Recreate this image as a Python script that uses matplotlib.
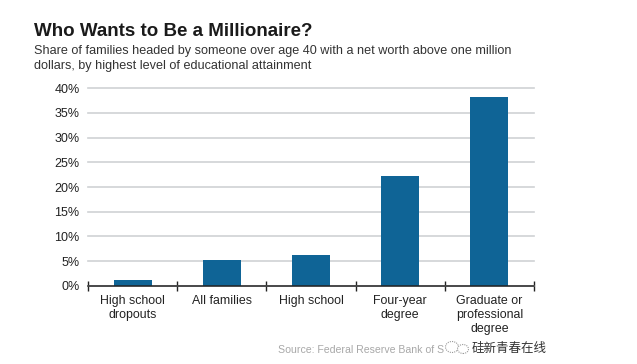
import matplotlib
matplotlib.use("Agg")
import matplotlib.pyplot as plt
from matplotlib.patches import Ellipse

categories = ["High school\ndropouts", "All families", "High school", "Four-year\ndegree", "Graduate or\nprofessional\ndegree"]
values = [1.2, 5.2, 6.3, 22.2, 38.2]
yticks = [0, 5, 10, 15, 20, 25, 30, 35, 40]

plt.rcParams['font.family'] = ['Liberation Sans', 'DejaVu Sans']
W, H = 637, 364
fig = plt.figure(figsize=(W/100, H/100), dpi=100, facecolor='white')
ax = fig.add_axes([88/W, 1-285.7/H, (534-88)/W, (285.7-88.3)/H])
ax.bar(range(5), values, width=0.425, color='#0f6496', zorder=3)
ax.set_xlim(-0.5, 4.5)
ax.set_ylim(0, 40)
ax.set_yticks(yticks)
ax.set_yticklabels([f"{v}%" for v in yticks], fontsize=9, color='#222222')
ax.set_xticks(range(5))
ax.set_xticklabels(categories, fontsize=8.9, color='#222222', linespacing=1.2)
ax.set_xticks([i - 0.5 for i in range(6)], minor=True)
ax.tick_params(axis='y', length=0, pad=6)
ax.tick_params(axis='x', which='major', length=0, pad=7)
ax.tick_params(axis='x', which='minor', length=7, width=1, direction='inout', color='#222222')
ax.grid(axis='y', color='#cfd2d4', lw=1.2, zorder=0, clip_on=False)
ax.grid(axis='x', visible=False)
for s in ['top', 'right', 'left']:
    ax.spines[s].set_visible(False)
ax.spines['bottom'].set_color('#222222')
ax.spines['bottom'].set_linewidth(1.1)
ax.spines['bottom'].set_zorder(4)
fig.text(34/W, 1-36/H, "Who Wants to Be a Millionaire?", fontsize=13.5, fontweight='bold', color='#1a1a1a', va='baseline')
fig.text(34/W, 1-54/H, "Share of families headed by someone over age 40 with a net worth above one million", fontsize=9.07, color='#333333', va='baseline')
fig.text(34/W, 1-69/H, "dollars, by highest level of educational attainment", fontsize=9.07, color='#333333', va='baseline')
fig.text(278/W, 1-353/H, "Source: Federal Reserve Bank of S", fontsize=7.6, color='#a8a8a8', va='baseline')
for cx, cy, w, h in [(452, 347, 13, 11), (463, 349, 11, 9)]:
    fig.add_artist(Ellipse((cx/W, 1-cy/H), w/W, h/H, transform=fig.transFigure,
                           facecolor='white', edgecolor='#999999', lw=0.8, ls=(0, (1, 1))))
fig.text(547/W, 1-352/H, "\u7845\u65b0\u9752\u6625\u5728\u7ebf", fontsize=9, color='#333333', ha='right', va='baseline', family=['Noto Sans CJK SC', 'DejaVu Sans'])
fig.savefig("out.png", dpi=100)
